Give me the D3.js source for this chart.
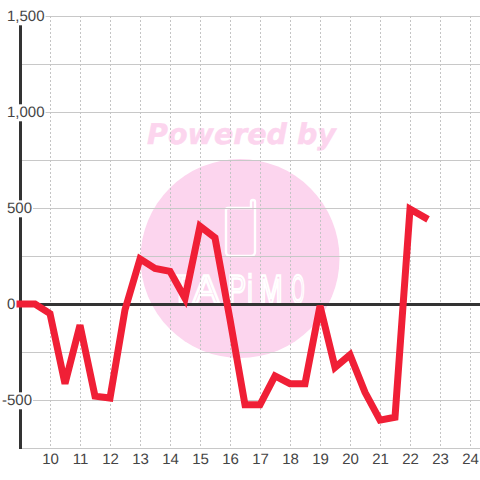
<!DOCTYPE html>
<html><head><meta charset="utf-8">
<script src="https://cdn.jsdelivr.net/npm/d3@7"></script>
<style>html,body{margin:0;padding:0;background:#fff}svg{display:block}text{font-family:"Liberation Sans",Arial,sans-serif;text-rendering:geometricPrecision}</style>
</head><body><svg id="c" width="480" height="480"></svg>
<script>
const hours=[9,9.5,10,10.5,11,11.5,12,12.5,13,13.5,14,14.5,15,15.5,16,16.5,17,17.5,18,18.5,19,19.5,20,20.5,21,21.5,22,22.5];
const values=[0,0,-50,-415,-110,-480,-490,-30,235,185,170,30,405,345,-80,-525,-525,-375,-415,-415,-10,-330,-265,-460,-605,-590,495,450];
const xTicks=[10,11,12,13,14,15,16,17,18,19,20,21,22,23,24];
const yLabelTicks=[1500,1000,500,0,-500];
const yGridTicks=[1500,1250,1000,750,500,250,-250,-500,-750];
const watermark="Powered by";
const logoLetters=["T","A","P","i","M","O"];
const logoCentres=[181,206,237,250,271,298];
const logoWidths=[18,26,18,5,23,13];

const svg=d3.select("#c");
const x=d3.scaleLinear().domain([9,24]).range([20,470]);
const y=d3.scaleLinear().domain([1500,-750]).range([16,448]);

// Watermark
const wm=svg.append("g");
wm.append("circle").attr("cx",240).attr("cy",258.5).attr("r",99.5).attr("fill","#fcd5ee");
wm.append("text").attr("x",241.5).attr("y",144).attr("text-anchor","middle")
  .style("font-family","'DejaVu Sans'").style("font-weight","bold").style("font-style","italic")
  .style("font-size","28.5px").attr("fill","#fcd5ee").attr("stroke","#fcd5ee").attr("stroke-width",.5).text(watermark);
wm.append("path").attr("d","M228 208 H251 V202 a2 2 0 0 1 4 0 V252 a4 4 0 0 1 -4 4 H230 a4 4 0 0 1 -4 -4 V210 a2 2 0 0 1 2 -2 Z")
  .attr("fill","none").attr("stroke","#fff").attr("stroke-width",2.4);
wm.selectAll("text.logo").data(logoLetters).join("text").attr("class","logo")
  .attr("text-anchor","middle").style("font-size","40px")
  .attr("fill","none").attr("stroke","#fff").attr("stroke-width",2.6)
  .style("vector-effect","non-scaling-stroke").text(d=>d)
  .attr("transform",function(d,i){
    const w=this.getComputedTextLength();
    return `translate(${logoCentres[i]},303) scale(${logoWidths[i]/w},1)`;
  });

// Grid
const gy=svg.append("g").attr("transform","translate(20,0)")
  .call(d3.axisLeft(y).tickValues(yGridTicks).tickSize(-460).tickFormat(""));
gy.select(".domain").remove();
gy.selectAll("line").attr("stroke","#c8c8c8").attr("stroke-width",1);

const gx=svg.append("g").attr("transform","translate(0,16)")
  .call(d3.axisBottom(x).tickValues(xTicks).tickSize(432).tickFormat(""));
gx.select(".domain").remove();
gx.selectAll("line").attr("stroke","#c4c4c4").attr("stroke-width",1).attr("stroke-dasharray","2 2");

// Left axis
svg.append("line").attr("x1",20.5).attr("x2",20.5).attr("y1",16).attr("y2",449).attr("stroke","#333").attr("stroke-width",3);
// Zero line
svg.append("line").attr("x1",20).attr("x2",480).attr("y1",y(0)+.5).attr("y2",y(0)+.5).attr("stroke","#333").attr("stroke-width",3);

// Y labels with white backing
const yl=svg.append("g").attr("transform","translate(7,0)")
  .call(d3.axisRight(y).tickValues(yLabelTicks).tickSize(0).tickPadding(0).tickFormat(d=>d3.format(",")(d).replace("\u2212","-")));
yl.select(".domain").remove();
yl.selectAll("text").attr("fill","#444").style("font-size","15px").attr("x",d=>d<0?-5:0);
yl.selectAll(".tick").each(function(d){
  const t=d3.select(this).select("text"), b=t.node().getBBox();
  d3.select(this).insert("rect","text").attr("x",b.x).attr("y",b.y).attr("width",b.width+1).attr("height",b.height)
    .attr("fill",d===0?"none":"#fff");
});

// X labels
const xl=svg.append("g").attr("transform","translate(0,448)")
  .call(d3.axisBottom(x).tickValues(xTicks).tickSize(0).tickPadding(5).tickFormat(d=>d));
xl.select(".domain").remove();
xl.selectAll("text").attr("fill","#444").style("font-size","15px");

// Series
svg.append("path").datum(hours.map((h,i)=>[h,values[i]]))
  .attr("d",d3.line().x(d=>x(d[0])).y(d=>y(d[1])))
  .attr("fill","none").attr("stroke","#f01f36").attr("stroke-width",7)
  .attr("stroke-linejoin","miter").attr("stroke-linecap","square");
</script></body></html>
